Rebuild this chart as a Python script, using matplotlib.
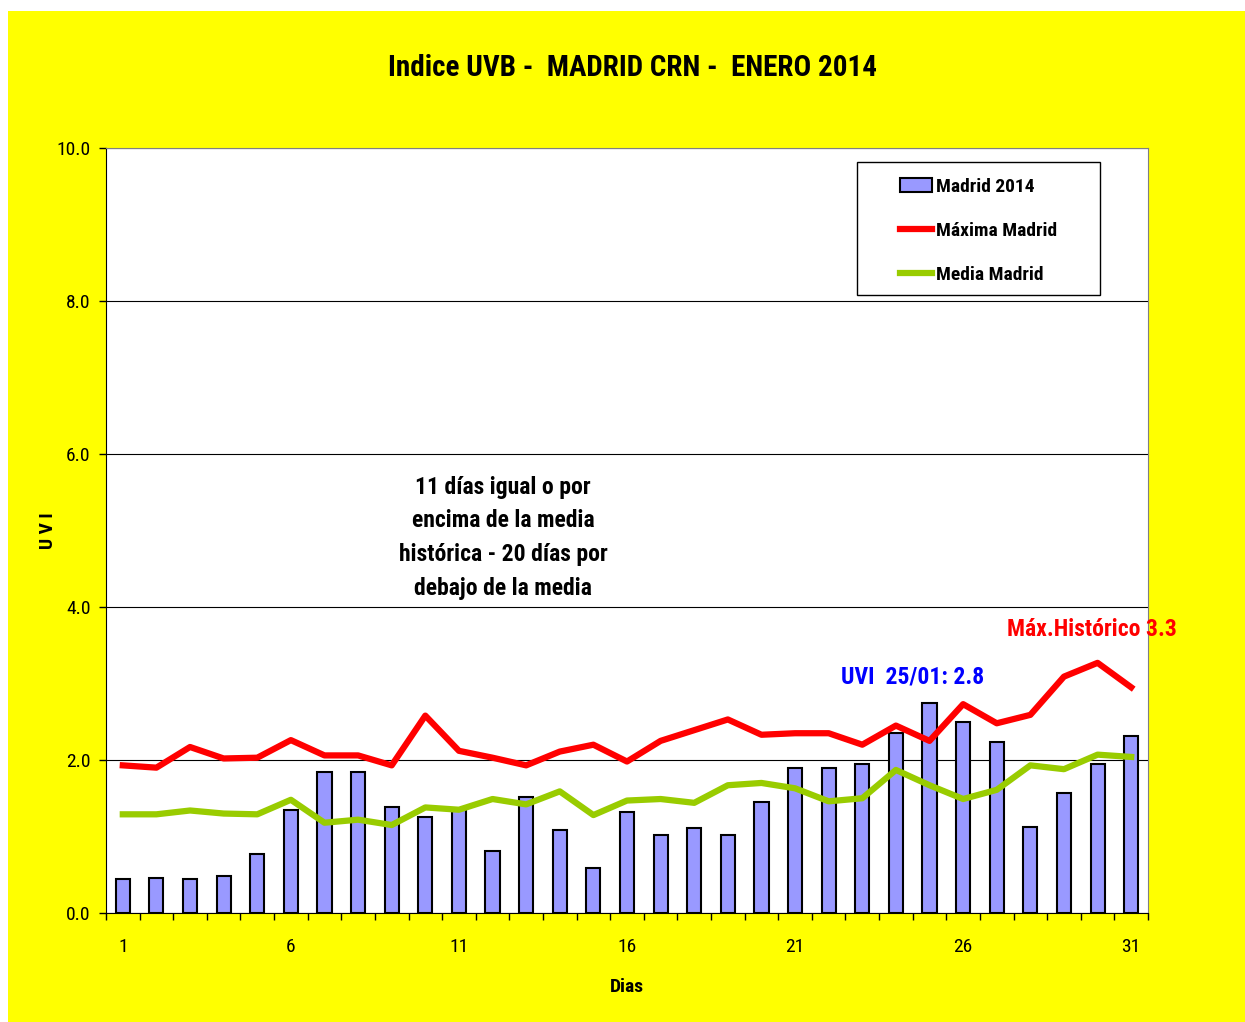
import matplotlib
matplotlib.use("Agg")
import matplotlib.pyplot as plt
from matplotlib.patches import Rectangle
import numpy as np

plt.rcParams['font.family'] = ['Roboto Condensed', 'DejaVu Sans']

dias = list(range(1, 32))
madrid_2014 = [0.44, 0.46, 0.44, 0.48, 0.77, 1.35, 1.84, 1.84, 1.39, 1.26,
               1.35, 0.81, 1.52, 1.08, 0.59, 1.32, 1.02, 1.11, 1.02, 1.45,
               1.90, 1.90, 1.95, 2.35, 2.75, 2.50, 2.24, 1.13, 1.57, 1.95, 2.31]
maxima_madrid = [1.93, 1.90, 2.17, 2.02, 2.03, 2.26, 2.06, 2.06, 1.93, 2.58,
                 2.12, 2.03, 1.93, 2.11, 2.20, 1.98, 2.25, 2.39, 2.53, 2.33,
                 2.35, 2.35, 2.20, 2.45, 2.25, 2.73, 2.48, 2.59, 3.09, 3.27, 2.95]
media_madrid = [1.29, 1.29, 1.34, 1.30, 1.29, 1.48, 1.18, 1.22, 1.15, 1.38,
                1.35, 1.49, 1.42, 1.59, 1.28, 1.47, 1.49, 1.44, 1.67, 1.70,
                1.63, 1.46, 1.50, 1.87, 1.67, 1.49, 1.61, 1.93, 1.88, 2.07, 2.04]
xtick_labels = ['1', '6', '11', '16', '21', '26', '31']

fig = plt.figure(figsize=(12.45, 10.22), dpi=100, facecolor='#FFFF00')
# thin white strips at top and left edges
fig.patches.append(Rectangle((0, 0), 8 / 1245, 1, transform=fig.transFigure,
                             facecolor='white', edgecolor='none'))
fig.patches.append(Rectangle((0, 1 - 11 / 1022), 1, 11 / 1022, transform=fig.transFigure,
                             facecolor='white', edgecolor='none'))
ax = fig.add_axes([106 / 1245, 1 - 913 / 1022, (1148 - 106) / 1245, (913 - 148) / 1022])
ax.set_facecolor('white')

x = np.arange(len(dias))
bars = ax.bar(x, madrid_2014, width=0.42, color='#9999FF', edgecolor='black', linewidth=1.5,
              label='Madrid 2014', zorder=3)
l1, = ax.plot(x, maxima_madrid, color='#FF0000', linewidth=4.5, label='Máxima Madrid', zorder=4)
l2, = ax.plot(x, media_madrid, color='#99CC00', linewidth=4.5, label='Media Madrid', zorder=4)

ax.set_xlim(-0.5, len(dias) - 0.5)
ax.set_ylim(0, 10)
ax.set_yticks(np.arange(0, 10.1, 2))
ax.set_yticklabels([f'{v:.1f}' for v in np.arange(0, 10.1, 2)], fontsize=14)
ax.yaxis.grid(True, color='black', linewidth=0.8)
ax.set_axisbelow(True)

# ticks between categories, labels every 5 days
ax.set_xticks(np.arange(-0.5, len(dias), 1))
ax.set_xticklabels([])
ax.set_xticks([dias.index(int(t)) for t in xtick_labels], minor=True)
ax.set_xticklabels(xtick_labels, minor=True, fontsize=14)
ax.tick_params(axis='x', which='major', length=5, direction='out', width=1)
ax.tick_params(axis='x', which='minor', length=0, pad=18)
ax.tick_params(axis='y', length=5, direction='out', width=1, pad=6)

for side in ['top', 'right']:
    ax.spines[side].set_color('#808080')

ax.set_xlabel('Dias', fontsize=14, fontweight='bold', labelpad=16)
ax.set_ylabel('U V I', fontsize=14, fontweight='bold', labelpad=0)

fig.text(632 / 1245, 1 - 68 / 1022, 'Indice UVB -  MADRID CRN -  ENERO 2014',
         ha='center', va='center', fontsize=21, fontweight='bold')

ax.text(0.381, 0.4905, '11 días igual o por\nencima de la media\nhistórica - 20 días por\ndebajo de la media',
        transform=ax.transAxes, ha='center', va='center', fontsize=17, fontweight='bold',
        linespacing=1.6)
ax.text(23.5, 2.93, 'UVI  25/01: 2.8', ha='center', va='bottom', fontsize=17,
        fontweight='bold', color='#0000FF')
ax.text(28.84, 3.55, 'Máx.Histórico 3.3', ha='center', va='bottom', fontsize=17,
        fontweight='bold', color='#FF0000', clip_on=False)

# legend: frame drawn separately to get the wide padding of the original
ax.add_patch(Rectangle((0.7207, 0.8078), 0.2332, 0.1739, transform=ax.transAxes,
                       facecolor='white', edgecolor='black', linewidth=1, zorder=5))
leg = ax.legend([bars, l1, l2], ['Madrid 2014', 'Máxima Madrid', 'Media Madrid'],
                loc='upper left', bbox_to_anchor=(0.762, 0.961),
                prop={'weight': 'bold', 'size': 14}, frameon=False,
                handlelength=1.65, handletextpad=0.2, labelspacing=1.33,
                borderpad=0, borderaxespad=0)
leg.set_zorder(6)

fig.savefig('out.png', dpi=100, facecolor=fig.get_facecolor())
